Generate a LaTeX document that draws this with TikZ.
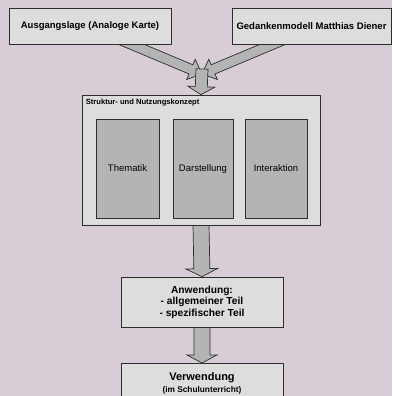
\documentclass[tikz,border=0pt]{standalone}
\usepackage{fontspec}
\setmainfont{Liberation Sans}
\usetikzlibrary{calc}

\definecolor{hintergrund}{RGB}{216,205,214}
\definecolor{hellgrau}{RGB}{221,221,221}
\definecolor{mittelgrau}{RGB}{180,180,180}
\definecolor{rahmen}{RGB}{45,45,45}

\pgfdeclarelayer{hinten}
\pgfdeclarelayer{pfeile}
\pgfsetlayers{hinten,pfeile,main}

% breiter Blockpfeil: Start, Ende, halbe Schaftbreite, halbe Kopfbreite, Kopflaenge
\newcommand{\blockpfeil}[5]{%
  \coordinate (bp-a) at #1;
  \coordinate (bp-b) at #2;
  \coordinate (bp-k) at ($(bp-b)!#5!(bp-a)$);
  \draw[pfeil] ($(bp-a)!#3!90:(bp-b)$) -- ($(bp-k)!#3!-90:(bp-a)$)
    -- ($(bp-k)!#4!-90:(bp-a)$) -- (bp-b) -- ($(bp-k)!#4!90:(bp-a)$)
    -- ($(bp-k)!#3!90:(bp-a)$) -- ($(bp-a)!#3!-90:(bp-b)$) -- cycle;
}

\begin{document}
\begin{tikzpicture}[x=1pt,y=-1pt,
  kasten/.style={draw=rahmen,fill=hellgrau,line width=.7pt,inner sep=0pt,align=center},
  innen/.style={draw=rahmen,fill=mittelgrau,line width=.7pt,inner sep=0pt,
    minimum height=99pt,text height=6pt,text depth=0pt,font=\fontsize{9.5}{11}\selectfont},
  pfeil/.style={draw=rahmen,fill=mittelgrau,line width=.7pt,line join=miter}]
\useasboundingbox (0,0) rectangle (392,396);
\begin{pgfonlayer}{hinten}
\fill[hintergrund] (0,0) rectangle (392,396);
\end{pgfonlayer}

\node[kasten,minimum width=162pt,minimum height=36pt,font=\bfseries\fontsize{9.5}{11}\selectfont]
  (ausgang) at (90,26) {Ausgangslage (Analoge Karte)};
\node[kasten,minimum width=159pt,minimum height=36pt,font=\bfseries\fontsize{9.5}{11}\selectfont]
  (gedanken) at (311.5,26) {Gedankenmodell Matthias Diener};

\node[kasten,minimum width=238pt,minimum height=130pt] (konzept) at (201,160) {};
\node[anchor=north west,inner sep=0pt,font=\bfseries\fontsize{7.6}{9}\selectfont]
  (titel) at ([xshift=4pt,yshift=-4pt]konzept.north west) {Struktur- und Nutzungskonzept};
\node[innen,minimum width=63pt] (thematik) at (127.5,168.5) {Thematik};
\node[innen,minimum width=60pt] (darstellung) at (203,168.5) {Darstellung};
\node[innen,minimum width=62pt] (interaktion) at (276,168.5) {Interaktion};

\node[kasten,minimum width=162pt,minimum height=50pt,font=\bfseries\fontsize{10.2}{11.6}\selectfont]
  (anwendung) at (202,302) {Anwendung:\\- allgemeiner Teil\\- spezifischer Teil};
\node[kasten,anchor=north,minimum width=162pt,minimum height=40pt,font=\bfseries\fontsize{11}{13}\selectfont]
  (verwendung) at (202,363) {Verwendung\\[-1pt]{\fontsize{8.3}{10}\selectfont(im Schulunterricht)}};

\coordinate (treffpunkt) at (202,74);

\begin{pgfonlayer}{pfeile}
\blockpfeil{($(ausgang.south)+(27,-6)$)}{(treffpunkt)}{5pt}{11pt}{12pt}
\blockpfeil{($(gedanken.south)+(-24.5,-6)$)}{(treffpunkt)}{5pt}{11pt}{12pt}
\blockpfeil{($(treffpunkt)+(0,-5)$)}{(konzept.north)}{6pt}{13.5pt}{8pt}
\blockpfeil{(konzept.south)}{(anwendung.north)}{8pt}{16pt}{8pt}
\blockpfeil{(anwendung.south)}{(verwendung.north)}{8pt}{15pt}{8pt}
\end{pgfonlayer}
\end{tikzpicture}
\end{document}
